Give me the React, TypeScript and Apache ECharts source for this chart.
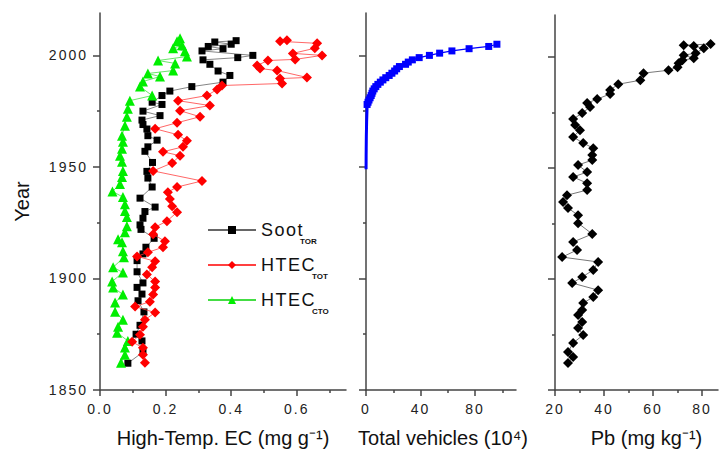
import React, { useEffect, useRef } from "react";
import * as echarts from "echarts";

const FONT = '"Liberation Sans", Arial, sans-serif';
const AXIS_COLOR = "#444";
const TEXT_COLOR = "#111";

// ---- ticks ----
const yearTicks = [1850, 1900, 1950, 2000];
const yearMinorTicks = [1875, 1925, 1975];
const ecTicks = [0, 0.2, 0.4, 0.6];
const ecMinorTicks = [0.1, 0.3, 0.5, 0.7];
const vehTicks = [0, 40, 80];
const vehMinorTicks = [20, 60, 100];
const pbTicks = [20, 40, 60, 80];
const pbMinorTicks = [30, 50, 70];

// ---- Soot (TOR) ----
const sootYears = [1862, 1867, 1872, 1875, 1879, 1885, 1890, 1893, 1896, 1898, 1903, 1908, 1911, 1914, 1918, 1922, 1924, 1927, 1930, 1932, 1936, 1941, 1945, 1948, 1952, 1957, 1959, 1962, 1964, 1967, 1969, 1971, 1973, 1975, 1978, 1979, 1982, 1984, 1986, 1988, 1991, 1993, 1996, 1998, 1999, 2000, 2002, 2003, 2004, 2005, 2006, 2006.6];
const sootValues = [0.085, 0.131, 0.128, 0.110, 0.122, 0.134, 0.116, 0.128, 0.113, 0.131, 0.113, 0.113, 0.131, 0.140, 0.165, 0.125, 0.122, 0.131, 0.137, 0.168, 0.122, 0.159, 0.146, 0.143, 0.160, 0.137, 0.146, 0.174, 0.146, 0.143, 0.131, 0.128, 0.183, 0.131, 0.189, 0.159, 0.189, 0.213, 0.280, 0.375, 0.396, 0.360, 0.335, 0.314, 0.420, 0.466, 0.311, 0.375, 0.330, 0.400, 0.350, 0.415];

// ---- HTEC (TOT) ----
const totYears = [1862.2, 1865.8, 1868.9, 1871.6, 1874.8, 1878.4, 1881.5, 1884.7, 1887.4, 1889.6, 1892.8, 1896, 1898.6, 1901.8, 1905, 1907.7, 1909.9, 1911.7, 1914, 1916.7, 1919.8, 1923, 1925.7, 1929.7, 1932.4, 1935.6, 1938.7, 1941, 1943.7, 1948.2, 1951.8, 1955, 1956.8, 1959, 1961.7, 1964.4, 1967.1, 1969.8, 1972.5, 1975.2, 1977.5, 1979.7, 1982, 1984.7, 1986.5, 1987.4, 1989.6, 1990.1, 1993.2, 1994.1, 1995.5, 1997.7, 1998.2, 2000, 2000.9, 2003.2, 2005.4, 2006.3, 2006.8];
const totValues = [0.137, 0.131, 0.131, 0.098, 0.122, 0.131, 0.137, 0.168, 0.107, 0.152, 0.162, 0.168, 0.168, 0.143, 0.159, 0.168, 0.113, 0.146, 0.192, 0.198, 0.162, 0.168, 0.204, 0.235, 0.220, 0.213, 0.207, 0.235, 0.311, 0.162, 0.220, 0.244, 0.192, 0.253, 0.265, 0.238, 0.168, 0.235, 0.305, 0.244, 0.335, 0.238, 0.326, 0.357, 0.372, 0.555, 0.549, 0.631, 0.540, 0.488, 0.479, 0.512, 0.595, 0.677, 0.588, 0.655, 0.662, 0.549, 0.570];

// ---- HTEC (CTO) ----
const ctoYears = [1862.2, 1865.8, 1869, 1872, 1875.7, 1878.4, 1881.5, 1885.1, 1889.2, 1892.8, 1896, 1898.6, 1902.7, 1905, 1909.5, 1912.2, 1916.2, 1917.6, 1920.7, 1923.4, 1927.5, 1930.2, 1933.3, 1936.5, 1939, 1942.3, 1945.5, 1948.2, 1952.3, 1955, 1958.1, 1961.3, 1964, 1968.5, 1972.5, 1976.1, 1979.7, 1982, 1986, 1988.3, 1990.5, 1991.9, 1993.2, 1996.4, 1997.7, 1999.5, 2001.8, 2003.2, 2004.5, 2006.3, 2007.7];
const ctoValues = [0.064, 0.076, 0.076, 0.085, 0.052, 0.055, 0.070, 0.046, 0.046, 0.070, 0.040, 0.037, 0.070, 0.040, 0.073, 0.070, 0.067, 0.055, 0.076, 0.082, 0.082, 0.076, 0.076, 0.070, 0.038, 0.061, 0.067, 0.070, 0.067, 0.061, 0.067, 0.070, 0.067, 0.076, 0.082, 0.085, 0.091, 0.159, 0.122, 0.131, 0.183, 0.146, 0.223, 0.229, 0.177, 0.265, 0.259, 0.223, 0.250, 0.235, 0.244];

// ---- Total vehicles (10^4) ----
const vehEarlyYears = [1949, 1952, 1955, 1958, 1961, 1964, 1967, 1970, 1973, 1976, 1978];
const vehEarlyValues = [0.05, 0.08, 0.1, 0.15, 0.2, 0.25, 0.35, 0.45, 0.6, 0.75, 0.8];
const vehYears = [1978, 1979, 1980, 1981, 1982, 1983, 1984, 1985, 1986, 1987, 1988, 1989, 1990, 1991, 1992, 1993, 1994, 1995, 1996, 1997, 1998, 1999, 2000, 2001, 2002, 2003, 2004, 2005];
const vehValues = [0.8, 1.5, 2.2, 3.0, 3.8, 4.4, 5.0, 6.0, 7.2, 8.7, 10.5, 12.4, 14.5, 17, 19, 21, 22.5, 24.5, 29, 31, 34, 39, 46.5, 54, 63, 75.6, 90, 96];

// ---- Pb (mg/kg) ----
const pbYears = [1862.2, 1864.9, 1867.1, 1871.2, 1874.8, 1877.9, 1880.6, 1883.8, 1886, 1889.2, 1891.9, 1895, 1898.2, 1900.9, 1904.1, 1907.7, 1909.9, 1913.1, 1916.7, 1920.3, 1925.2, 1928.8, 1932, 1934.7, 1937.8, 1940.1, 1943.2, 1946, 1948.2, 1951.4, 1953.6, 1955.9, 1959, 1961.3, 1964, 1967.1, 1969.4, 1972.1, 1974.8, 1977.5, 1979.3, 1981.1, 1983.4, 1985.2, 1987.8, 1989.6, 1992.8, 1994.1, 1995.5, 1997.3, 1998.6, 1999.5, 2000.9, 2001.8, 2004, 2005, 2005.4, 2005.9];
const pbValues = [25.3, 27.4, 25.3, 27.4, 31.5, 29.4, 31.1, 29.4, 31.1, 31.5, 35.6, 37.6, 27.0, 31.1, 35.6, 37.6, 22.9, 29.0, 27.4, 35.2, 29.4, 29.4, 25.3, 23.3, 24.9, 33.1, 33.1, 27.4, 33.1, 29.4, 35.2, 35.2, 35.6, 31.5, 27.4, 30.2, 28.2, 27.4, 31.1, 34.3, 33.1, 37.2, 42.5, 42.5, 45.8, 54.8, 56.1, 66.3, 70.0, 70.4, 72.0, 76.6, 72.5, 77.4, 80.7, 76.6, 72.5, 83.5];

const pairs = (xs: number[], ys: number[]) => ys.map((y, i) => [xs[i], y]);

const legendLabels: Record<string, string> = {
  Soot: "{m|Soot}{s|TOR}",
  "HTEC TOT": "{m|HTEC}{s|TOT}",
  "HTEC CTO": "{m|HTEC}{s|CTO}",
};

const tickLine = { color: AXIS_COLOR, width: 1.5 };

function makeXAxes(gridIndex: number, min: number, max: number, major: number[], minor: number[], name: string, fmt: (v: number) => string, namePad: number) {
  return [
    {
      type: "value", gridIndex, min, max, position: "bottom",
      name, nameLocation: "middle", nameGap: 38,
      nameTextStyle: { fontSize: 20, color: TEXT_COLOR, fontFamily: FONT, padding: [0, 0, 0, namePad] },
      axisLine: { show: true, onZero: false, lineStyle: { color: AXIS_COLOR, width: 1.5 } },
      axisTick: { show: true, inside: false, length: 6, customValues: major, lineStyle: tickLine },
      axisLabel: { show: true, customValues: major, margin: 12, fontSize: 14, color: "#222", fontFamily: FONT, formatter: fmt },
      splitLine: { show: false },
    },
    {
      type: "value", gridIndex, min, max, position: "bottom",
      axisLine: { show: false },
      axisTick: { show: true, inside: false, length: 3, customValues: minor, lineStyle: tickLine },
      axisLabel: { show: false },
      splitLine: { show: false },
    },
  ];
}

function makeYAxes(gridIndex: number, showLabels: boolean) {
  const main: any = {
    type: "value", gridIndex, min: 1850, max: 2019, position: "left",
    axisLine: { show: true, onZero: false, lineStyle: { color: AXIS_COLOR, width: 1.5 } },
    axisTick: { show: true, inside: false, length: 7, customValues: yearTicks, lineStyle: tickLine },
    axisLabel: showLabels
      ? { show: true, customValues: yearTicks, margin: 12, fontSize: 14, color: "#222", fontFamily: FONT, formatter: (v: number) => String(v) }
      : { show: false },
    splitLine: { show: false },
  };
  if (showLabels) {
    main.name = "Year";
    main.nameLocation = "middle";
    main.nameGap = 68;
    main.nameTextStyle = { fontSize: 20, color: TEXT_COLOR, fontFamily: FONT };
  }
  return [
    main,
    {
      type: "value", gridIndex, min: 1850, max: 2019, position: "left",
      axisLine: { show: false },
      axisTick: { show: true, inside: false, length: 3, customValues: yearMinorTicks, lineStyle: tickLine },
      axisLabel: { show: false },
      splitLine: { show: false },
    },
  ];
}

const option: any = {
  animation: false,
  backgroundColor: "#fff",
  textStyle: { fontFamily: FONT },
  grid: [
    { left: 100, top: 13, width: 246, height: 377 },
    { left: 366, top: 13, width: 150, height: 377 },
    { left: 555, top: 15, width: 163, height: 375 },
  ],
  xAxis: [
    ...makeXAxes(0, 0, 0.75, ecTicks, ecMinorTicks, "High-Temp. EC (mg g\u207B\u00B9)", (v) => v.toFixed(1), 0),
    ...makeXAxes(1, 0, 110, vehTicks, vehMinorTicks, "Total vehicles (10\u2074)", (v) => String(v), 4),
    ...makeXAxes(2, 20, 86.5, pbTicks, pbMinorTicks, "Pb (mg kg\u207B\u00B9)", (v) => String(v), 20),
  ],
  yAxis: [...makeYAxes(0, true), ...makeYAxes(1, false), ...makeYAxes(2, false)],
  legend: {
    orient: "vertical",
    left: 207,
    top: 221,
    padding: 0,
    itemWidth: 48,
    itemHeight: 10,
    itemGap: 11,
    data: ["Soot", "HTEC TOT", "HTEC CTO"],
    formatter: (n: string) => legendLabels[n] || n,
    textStyle: {
      color: TEXT_COLOR,
      rich: {
        m: { fontSize: 18, lineHeight: 30, color: TEXT_COLOR, fontFamily: FONT },
        s: { fontSize: 8, lineHeight: 8, fontWeight: "bold", verticalAlign: "bottom", color: TEXT_COLOR, fontFamily: FONT, padding: [0, 0, 0, 2] },
      },
    },
  },
  series: [
    {
      name: "Soot", type: "line", xAxisIndex: 0, yAxisIndex: 0,
      data: pairs(sootValues, sootYears),
      symbol: "rect", symbolSize: 7,
      itemStyle: { color: "#000" },
      lineStyle: { color: "#666", width: 0.8 },
      z: 3,
    },
    {
      name: "HTEC TOT", type: "line", xAxisIndex: 0, yAxisIndex: 0,
      data: pairs(totValues, totYears),
      symbol: "diamond", symbolSize: 10,
      itemStyle: { color: "#ff0000" },
      lineStyle: { color: "#ff4040", width: 0.8 },
      z: 4,
    },
    {
      name: "HTEC CTO", type: "line", xAxisIndex: 0, yAxisIndex: 0,
      data: pairs(ctoValues, ctoYears),
      symbol: "triangle", symbolSize: 10,
      itemStyle: { color: "#00ee00" },
      lineStyle: { color: "#44dd44", width: 0.8 },
      z: 3,
    },
    {
      name: "Vehicles early", type: "line", xAxisIndex: 2, yAxisIndex: 2,
      data: pairs(vehEarlyValues, vehEarlyYears),
      symbol: "none",
      lineStyle: { color: "#0000ff", width: 3 },
    },
    {
      name: "Total vehicles", type: "line", xAxisIndex: 2, yAxisIndex: 2,
      data: pairs(vehValues, vehYears),
      symbol: "rect", symbolSize: 7,
      itemStyle: { color: "#0000ff" },
      lineStyle: { color: "#0000ff", width: 1.2 },
    },
    {
      name: "Pb", type: "line", xAxisIndex: 4, yAxisIndex: 4,
      data: pairs(pbValues, pbYears),
      symbol: "diamond", symbolSize: 10,
      itemStyle: { color: "#000" },
      lineStyle: { color: "#555", width: 0.8 },
    },
  ],
};

export default function App() {
  const ref = useRef<HTMLDivElement>(null);
  useEffect(() => {
    const el = ref.current!;
    const chart = echarts.init(el, null, { renderer: "svg" });
    chart.setOption(option);
    el.querySelectorAll("text").forEach((t) => {
      const fs = window.getComputedStyle(t).fontSize;
      if (fs === "14px") t.setAttribute("letter-spacing", "2");
      else if (fs === "18px") t.setAttribute("letter-spacing", "1.5");
    });
    return () => chart.dispose();
  }, []);
  return (
    <>
      <style>{`body{margin:0}`}</style>
      <div id="chart" ref={ref} style={{ width: 719, height: 453 }} />
    </>
  );
}
